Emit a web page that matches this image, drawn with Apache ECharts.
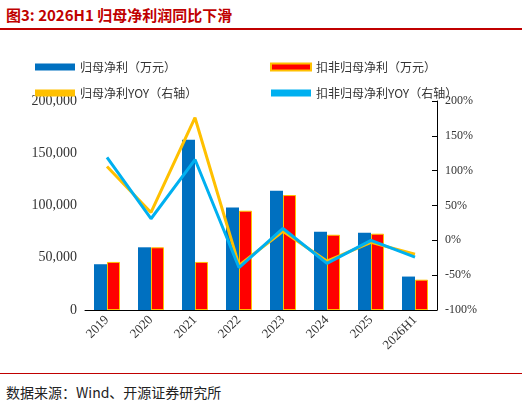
<!DOCTYPE html>
<html>
<head>
<meta charset="utf-8">
<script src="https://cdn.jsdelivr.net/npm/echarts@6/dist/echarts.min.js"></script>
<style>
  html,body{margin:0;padding:0;background:#fff;}
  #title{position:absolute;left:6px;top:4px;font:bold 15px "Noto Sans CJK SC";color:#c00000;}
  #line1{position:absolute;left:0;top:28px;width:522px;border-top:2px solid #c00000;}
  #line2{position:absolute;left:0;top:373px;width:522px;border-top:1px solid #c00000;}
  #src{position:absolute;left:6px;top:382px;font:14px "Noto Sans CJK SC";color:#222;}
  #main{position:absolute;left:0;top:30px;width:522px;height:342px;}
</style>
</head>
<body>
<div id="title">图3:  2026H1 归母净利润同比下滑</div>
<div id="line1"></div>
<div id="main"></div>
<div id="line2"></div>
<div id="src">数据来源：Wind、开源证券研究所</div>
<script>
var categories = ['2019','2020','2021','2022','2023','2024','2025','2026H1'];
var netProfit = [43800, 60000, 163000, 98000, 114000, 75000, 74000, 32000];
var deductedProfit = [46000, 60000, 46000, 95000, 110000, 72000, 73000, 29000];
var netProfitYoy = [106, 40, 176, -36, 13, -30, -3, -20];
var deductedYoy = [119, 31, 116, -39, 17, -33, 0, -24];

var chart = echarts.init(document.getElementById('main'));
var font = '"Noto Sans CJK SC", serif';
function leg(left, top, names, icon, h){
  return {left:left, top:top, orient:'vertical', itemGap:14, itemWidth:40, itemHeight:h, icon:icon,
    textStyle:{fontFamily:font,fontSize:12,color:'#333'}, data:names};
}
chart.setOption({
  animation:false,
  legend:[
    leg(30, 26, ['归母净利（万元）','归母净利YOY（右轴）'], 'rect', 7),
    leg(265, 26, ['扣非归母净利（万元）','扣非归母净利YOY（右轴）'], 'rect', 7)
  ],
  grid:{left:85, right:85, top:71, bottom:62},
  xAxis:{
    type:'category', data:categories,
    axisLine:{lineStyle:{color:'#000'}}, axisTick:{show:false},
    axisLabel:{rotate:45, color:'#333', fontFamily:'Liberation Serif', fontSize:13, margin:8}
  },
  yAxis:[{
    type:'value', min:0, max:200000, interval:50000,
    splitLine:{show:false}, axisLine:{show:false},
    axisLabel:{color:'#333', fontFamily:'Liberation Serif', fontSize:14,
      formatter:function(v){return v.toLocaleString('en-US');}}
  },{
    type:'value', min:-100, max:200, interval:50,
    splitLine:{show:false}, axisLine:{show:true,lineStyle:{color:'#000'}},
    axisTick:{show:true,inside:true},
    axisLabel:{color:'#333', fontFamily:'Liberation Serif', fontSize:12, formatter:'{value}%'}
  }],
  series:[
    {name:'归母净利（万元）', type:'bar', data:netProfit, barWidth:13, barGap:'0%',
      itemStyle:{color:'#0070c0'}},
    {name:'扣非归母净利（万元）', type:'bar', data:deductedProfit, barWidth:13,
      itemStyle:{color:'#ff0000', borderColor:'#ffc000', borderWidth:1}},
    {name:'归母净利YOY（右轴）', type:'line', yAxisIndex:1, data:netProfitYoy,
      symbol:'none', lineStyle:{color:'#ffc000', width:3}, itemStyle:{color:'#ffc000'}},
    {name:'扣非归母净利YOY（右轴）', type:'line', yAxisIndex:1, data:deductedYoy,
      symbol:'none', lineStyle:{color:'#00b0f0', width:3}, itemStyle:{color:'#00b0f0'}}
  ]
});
</script>
</body>
</html>
